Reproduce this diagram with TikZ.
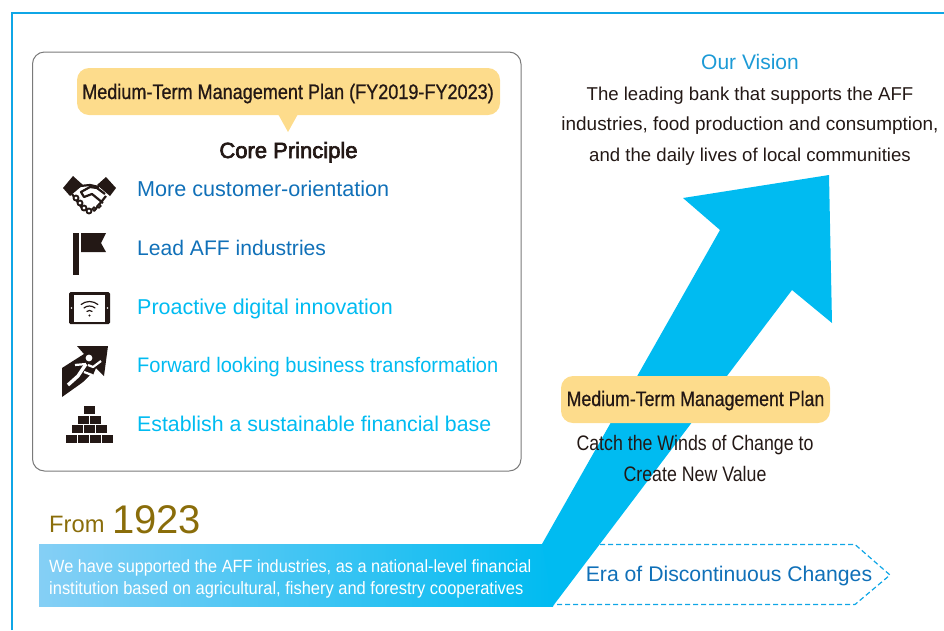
\documentclass[tikz,border=0pt]{standalone}
\usepackage{fontspec}
\setmainfont{Liberation Sans}
\newfontfamily\narrowfont[FakeStretch=0.86,FakeBold=0.8]{Liberation Sans}
\newfontfamily\tightfont[FakeStretch=0.846,FakeBold=0.5]{Liberation Sans}
\newfontfamily\windfont[FakeStretch=0.846]{Liberation Sans}
\newfontfamily\bandfont[FakeStretch=0.92]{Liberation Sans}
\newfontfamily\itemfont[FakeStretch=0.955]{Liberation Sans}
\newfontfamily\corefont[FakeBold=3]{Liberation Sans}
\definecolor{framecyan}{HTML}{0FA6E6}
\definecolor{arrowcyan}{HTML}{00BBF1}
\definecolor{bandpale}{HTML}{85CFF5}
\definecolor{planyellow}{HTML}{FDDC8C}
\definecolor{darkblue}{HTML}{1070B8}
\definecolor{visionblue}{HTML}{1C9AD6}
\definecolor{goldbrown}{HTML}{8A6D0A}
\definecolor{inkblack}{HTML}{231815}
\definecolor{boxgrey}{HTML}{7A7A7A}
\begin{document}
\begin{tikzpicture}[x=1pt,y=-1pt,
                   plan text/.style  = {inner sep = 0pt,
                                        anchor    = base,
                                        text      = inkblack,
                                        font      = \tightfont\fontsize{21}{24}\selectfont},
                   wind text/.style  = {inner sep = 0pt,
                                        anchor    = base,
                                        text      = inkblack,
                                        font      = \windfont\fontsize{21}{24}\selectfont},
                   vision text/.style = {inner sep = 0pt,
                                        anchor    = base,
                                        text      = inkblack,
                                        font      = \fontsize{18.6}{24}\selectfont},
                   item text/.style  = {inner sep = 0pt,
                                        anchor    = base west},
                   band text/.style  = {inner sep = 0pt,
                                        anchor    = base west,
                                        text      = white,
                                        font      = \bandfont\fontsize{17.7}{20}\selectfont},
                   brick/.style      = {fill = inkblack, draw = none}]
\useasboundingbox (0,0) rectangle (944,630);

% frame and panel
\draw[framecyan, line width=1.8pt] (12,630) -- (12,13) -- (944,13);
\draw[boxgrey, line width=1pt, rounded corners=12pt] (32.5,52) rectangle (521,471);

% callout
\fill[planyellow] (278,114) -- (288,132) -- (298,114) -- cycle;
\fill[planyellow, rounded corners=12pt] (77,68) rectangle (500,115);
\node[plan text, font=\narrowfont\fontsize{21}{24}\selectfont] (planlong) at (288,99) {Medium-Term Management Plan (FY2019-FY2023)};
\node[inner sep=0pt, anchor=base, text=inkblack, font=\corefont\fontsize{22}{25}\selectfont]
   (core) at (288.5,158) {Core Principle};

% principles
\node[item text, text=darkblue, font=\fontsize{21.6}{25}\selectfont]   (item1) at (137,196) {More customer-orientation};
\node[item text, text=darkblue, font=\fontsize{21.1}{25}\selectfont]   (item2) at (137,255) {Lead AFF industries};
\node[item text, text=arrowcyan, font=\fontsize{21.5}{25}\selectfont]  (item3) at (137,314) {Proactive digital innovation};
\node[item text, text=arrowcyan, font=\itemfont\fontsize{21}{25}\selectfont]  (item4) at (137,372) {Forward looking business transformation};
\node[item text, text=arrowcyan, font=\fontsize{21.3}{25}\selectfont]  (item5) at (137,431) {Establish a sustainable financial base};

% handshake icon
\fill[inkblack] (63,188) -- (73,176) -- (83,185) -- (70,196) -- cycle;
\fill[inkblack] (116,188) -- (106,177) -- (97,185) -- (110,196) -- cycle;
\draw[inkblack, line width=2.2pt, line join=round]
   (80,186) -- (90,185) -- (99,187) (72,194) -- (82,208) (106,196) -- (94,211);
\draw[inkblack, line width=2.2pt, line join=round]
   (105,194) -- (97,188) -- (90,187) -- (81,192) -- (84,197) -- (92,194) -- (103,203);
\foreach \px/\py in {76/198,80/203,84/208,89/211}
  { \draw[inkblack, line width=1.8pt, fill=white] (\px,\py) circle (2.5); }
\foreach \px/\py in {99/206,94/209}
  { \draw[inkblack, line width=1.6pt, fill=white] (\px,\py) circle (1.8); }

% flag icon
\fill[inkblack] (73,233) rectangle (79,275);
\fill[inkblack] (81,233) -- (106,233) -- (101,243) -- (106,252) -- (81,252) -- cycle;

% tablet icon
\fill[inkblack, rounded corners=1.5pt] (69,292) rectangle (110,324);
\fill[white] (74,295) rectangle (105,322);
\fill[white] (71.5,308) circle (0.9);
\fill[white] (107.5,308) circle (0.9);
\fill[inkblack] (89.5,315.5) circle (1.2);
\foreach \r in {4.5,9,13.5}
  { \draw[inkblack, line width=1.2pt] (89.5,315) ++(-130:\r) arc[start angle=-130, end angle=-50, radius=\r]; }

% runner icon
\fill[inkblack] (77,346) -- (108,346) -- (104,376) -- (96,368) -- (93,375) -- (62,397) -- (62,368) -- (84,354) -- cycle;
\fill[white] (89,358) circle (3.4);
\draw[white, line width=3.4pt, line join=round]
   (68,385) -- (78,376) -- (86,364);
\draw[white, line width=2.2pt, line join=round]
   (84,372) -- (92,375) -- (83,384) (86,364) -- (75,365) (88,365) -- (93,367) -- (101,361);

% bricks icon
\fill[brick] (84,406) rectangle (95,414);
\foreach \k in {0,1}
  { \fill[brick] (78+12*\k,416) rectangle ++(11,7.5); }
\foreach \k in {0,1,2}
  { \fill[brick] (72+12*\k,425) rectangle ++(11,8); }
\foreach \k in {0,1,2,3}
  { \fill[brick] (66+12*\k,435) rectangle ++(11,8); }

% era pentagon, below the arrow
\draw[framecyan, line width=1.2pt, dash pattern=on 5pt off 3pt] (600,544.5) -- (855,544.5) -- (890,575) -- (855,604.5) -- (553,604.5);
\node[inner sep=0pt, anchor=base, text=darkblue, font=\fontsize{21.2}{25}\selectfont]
   (era) at (729,581) {Era of Discontinuous Changes};

% band and arrow
\shade[left color=bandpale, right color=arrowcyan] (39,544) rectangle (553,606);
\fill[arrowcyan] (542,544) -- (720,230) -- (683,198) -- (829,175) -- (832,323) -- (792,290) -- (553,606) -- cycle;

% band text
\node[band text] (band1) at (49,572) {We have supported the AFF industries, as a national-level financial};
\node[band text, font=\bandfont\fontsize{17.9}{20}\selectfont] (band2) at (49,594) {institution based on agricultural, fishery and forestry cooperatives};
\node[inner sep=0pt, anchor=base west, text=goldbrown, font=\fontsize{23.7}{26}\selectfont]
   (from) at (49,532) {From};
\node[inner sep=0pt, anchor=base west, text=goldbrown, font=\fontsize{40}{44}\selectfont]
   (year) at (112,533) {1923};

% vision
\node[inner sep=0pt, anchor=base, text=visionblue, font=\fontsize{21}{24}\selectfont]
   (vision) at (750,69) {Our Vision};
\node[vision text] (vision1) at (750,100) {The leading bank that supports the AFF};
\node[vision text, font=\fontsize{18.95}{24}\selectfont] (vision2) at (750,130) {industries, food production and consumption,};
\node[vision text] (vision3) at (750,161) {and the daily lives of local communities};

% plan
\fill[planyellow, rounded corners=12pt] (561,376) rectangle (830,423);
\node[plan text] (plan) at (695.5,406) {Medium-Term Management Plan};
\node[wind text] (wind1) at (695,450) {Catch the Winds of Change to};
\node[wind text] (wind2) at (695,481) {Create New Value};
\end{tikzpicture}
\end{document}
